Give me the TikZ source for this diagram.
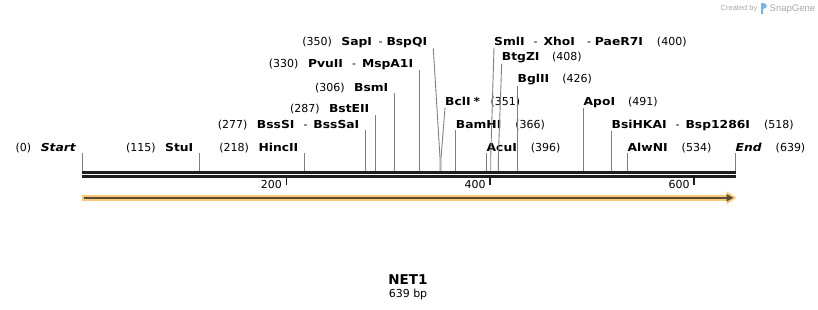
\documentclass[tikz,border=0pt]{standalone}
\usepackage{fontspec}
\setmainfont{DejaVu Sans}
\newfontfamily\enzfont{DejaVu Sans}[FakeStretch=1.12]
\newfontfamily\creditfont{Liberation Sans}
\usetikzlibrary{arrows.meta, calc, positioning}

\definecolor{rulergray}{RGB}{30,30,30}
\definecolor{sitegray}{RGB}{128,128,128}
\definecolor{featorange}{RGB}{250,202,120}
\definecolor{featdark}{RGB}{88,76,52}
\definecolor{sgblue}{RGB}{110,185,235}
\definecolor{sggray}{RGB}{170,170,170}

\newcommand{\enzname}[1]{{\enzfont\bfseries #1}}
\newcommand{\lgap}{\hspace{9.5pt}}
\newcommand{\rgap}{\hspace{14pt}}
\newcommand{\orsep}{\hspace{9pt}-\hspace{6pt}}

\begin{document}
\begin{tikzpicture}[x=1pt, y=-1pt,
    lblL/.style={anchor=base east, inner sep=0pt, font=\fontsize{11}{13}\selectfont},
    lblR/.style={anchor=base west, inner sep=0pt, font=\fontsize{11}{13}\selectfont},
    site/.style={sitegray, line width=0.9pt},
    ruler/.style={rulergray, line width=2.7pt},
    tickmark/.style={rulergray, line width=1.8pt},
    ticklbl/.style={anchor=base east, inner sep=0pt, font=\fontsize{11}{13}\selectfont}]
	\useasboundingbox (0,0) rectangle (818,310);

	% Credit
	\node[anchor=base west, inner sep=0pt, text=sggray, font=\creditfont\fontsize{7.5}{9}\selectfont] (credit) at (720.5,11) {Created by};
	\fill[sgblue] (760.5,3.5) rectangle (763,14);
	\fill[sgblue] (763,3.5) .. controls (768,3.5) and (768,9.5) .. (763,9.5) -- cycle;
	\node[anchor=base west, inner sep=0pt, text=sggray, font=\creditfont\fontsize{9.5}{11}\selectfont] (sg) at (769.5,11.5) {SnapGene};

	% Draw Ruler
	\draw[ruler] (82,172.3) -- (736,172.3);
	\draw[ruler] (82,176.5) -- (736,176.5);
	\foreach \v/\x in {200/286.5, 400/490.3, 600/694.3}{
		\draw[tickmark] (\x,178) -- (\x,184.7);
		\node[ticklbl] (tick\v) at (\x-4.5,188.3) {\v};
	}

	% Site positions on the ruler
	\coordinate (sStart) at (82,171);
	\coordinate (sStu) at (199.5,171);
	\coordinate (sHinc) at (304.5,171);
	\coordinate (sBss) at (365.5,171);
	\coordinate (sBst) at (375.5,171);
	\coordinate (sBsm) at (394.5,171);
	\coordinate (sPvu) at (419.3,171);
	\coordinate (sSap) at (440,171);
	\coordinate (sBcl) at (441,171);
	\coordinate (sBam) at (455.7,171);
	\coordinate (sAcu) at (486.5,171);
	\coordinate (sSml) at (490.7,171);
	\coordinate (sBtg) at (498.3,171);
	\coordinate (sBgl) at (517.5,171);
	\coordinate (sApo) at (583.5,171);
	\coordinate (sBsi) at (611.5,171);
	\coordinate (sAlw) at (627.5,171);
	\coordinate (sEnd) at (735.5,171);

	% Labels left of their site
	\node[lblL] (start) at (76,151.7) {(0)\lgap\enzname{\itshape Start}};
	\node[lblL] (stu) at (193.5,151.7) {(115)\lgap\enzname{StuI}};
	\node[lblL] (hinc) at (298.5,151.7) {(218)\lgap\enzname{HincII}};
	\node[lblL] (bss) at (359.5,128.3) {(277)\lgap\enzname{BssSI}\orsep\enzname{BssSaI}};
	\node[lblL] (bst) at (369.5,113) {(287)\lgap\enzname{BstEII}};
	\node[lblL] (bsm) at (388.5,91.3) {(306)\lgap\enzname{BsmI}};
	\node[lblL] (pvu) at (413.3,67.7) {(330)\lgap\enzname{PvuII}\orsep\enzname{MspA1I}};
	\node[lblL] (sap) at (427.3,46) {(350)\lgap\enzname{SapI}\hspace{6.5pt}-\hspace{4pt}\enzname{BspQI}};

	% Labels right of their site
	\node[lblR] (bcl) at (445,106) {\enzname{BclI\hspace{3pt}*}\hspace{10.5pt}(351)};
	\node[lblR] (bam) at (455.7,128.3) {\enzname{BamHI}\rgap(366)};
	\node[lblR] (acu) at (486.5,151.7) {\enzname{AcuI}\rgap(396)};
	\node[lblR] (sml) at (494,46) {\enzname{SmlI}\orsep\enzname{XhoI}\hspace{12pt}-\hspace{4pt}\enzname{PaeR7I}\rgap(400)};
	\node[lblR] (btg) at (501.7,61) {\enzname{BtgZI}\hspace{12.5pt}(408)};
	\node[lblR] (bgl) at (517.5,83) {\enzname{BglII}\hspace{13pt}(426)};
	\node[lblR] (apo) at (583.5,106) {\enzname{ApoI}\hspace{13pt}(491)};
	\node[lblR] (bsi) at (611.5,128.3) {\enzname{BsiHKAI}\orsep\enzname{Bsp1286I}\rgap(518)};
	\node[lblR] (alw) at (627.5,151.7) {\enzname{AlwNI}\rgap(534)};
	\node[lblR] (end) at (735.5,151.7) {\enzname{\itshape End}\rgap(639)};

	% Draw Site Lines
	\draw[site] (sStart) -- (sStart |- start.south);
	\draw[site] (sStu) -- (sStu |- stu.south);
	\draw[site] (sHinc) -- (sHinc |- hinc.south);
	\draw[site] (sBss) -- (sBss |- bss.south);
	\draw[site] (sBst) -- (sBst |- bst.south);
	\draw[site] (sBsm) -- (sBsm |- bsm.south);
	\draw[site] (sPvu) -- (sPvu |- pvu.south);
	\draw[site] (sSap) -- ++(0,-13) -- ([xshift=6pt]sap.south east);
	\draw[site] (sBcl) -- ++(0,-13) -- (bcl.south west);
	\draw[site] (sBam) -- (bam.south west);
	\draw[site] (sAcu) -- (acu.south west);
	\draw[site] (sSml) -- ++(0,-13) -- (sml.south west);
	\draw[site] (sBtg) -- ++(0,-13) -- (btg.south west);
	\draw[site] (sBgl) -- (bgl.south west);
	\draw[site] (sApo) -- (apo.south west);
	\draw[site] (sBsi) -- (bsi.south west);
	\draw[site] (sAlw) -- (alw.south west);
	\draw[site] (sEnd) -- (end.south west);

	% Draw Feature Arrow
	\coordinate (fS) at (82,197.8);
	\coordinate (fE) at (736.5,197.8);
	\draw[featorange, line width=6pt, -{Triangle[length=10pt, width=12.5pt]}] (fS) -- (fE);
	\draw[featdark, line width=2.3pt, -{Triangle[length=7pt, width=7pt]}] ([xshift=2pt]fS) -- ([xshift=-3pt]fE);

	% Title
	\node[anchor=base, inner sep=0pt, font=\bfseries\fontsize{13.5}{16}\selectfont] (title) at (408,284) {NET1};
	\node[anchor=base, inner sep=0pt, font=\fontsize{11}{13}\selectfont] (len) at (408,297.7) {639 bp};
\end{tikzpicture}
\end{document}
